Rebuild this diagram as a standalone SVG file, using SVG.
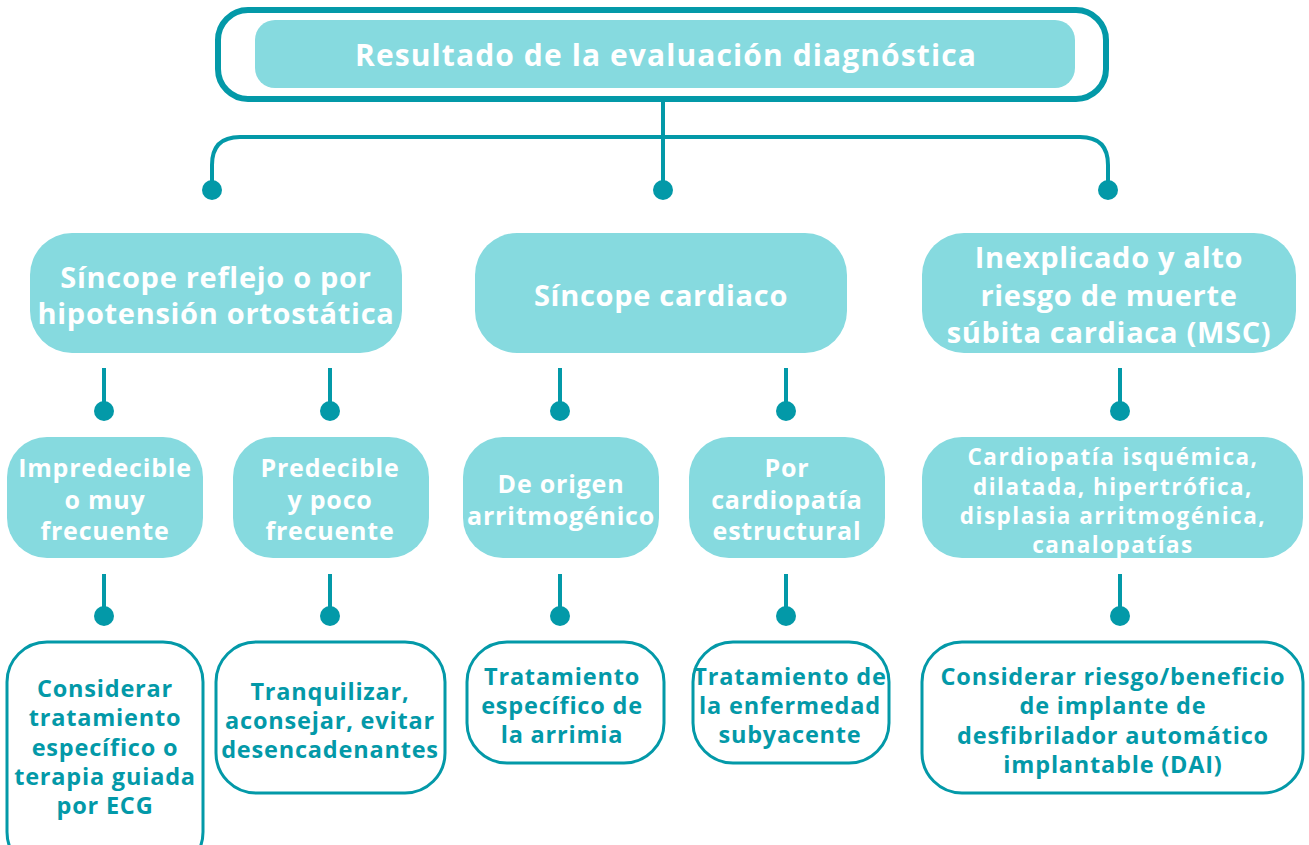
<svg xmlns="http://www.w3.org/2000/svg" width="1309" height="845" viewBox="0 0 1309 845">
<style>
.lb{fill:#86dadf;stroke:none}
.ob{fill:#fff;stroke:#0399a8;stroke-width:3}
.ln{fill:none;stroke:#0399a8;stroke-width:4}
.dot{fill:#0399a8}
.tw{fill:#fff;font-family:"Open Sans","Liberation Sans",Arial,sans-serif;font-weight:bold;text-anchor:middle}
.tt{fill:#0399a8;font-family:"Open Sans","Liberation Sans",Arial,sans-serif;font-weight:bold;text-anchor:middle;font-size:23.5px;letter-spacing:0.8px}
.r2{font-size:29px;letter-spacing:0.7px}
.r3{font-size:25px;letter-spacing:0.8px}
.r3b{font-size:22.5px;letter-spacing:1.5px}
</style>
<rect width="1309" height="845" fill="#fff"/>
<g id="connectors">
<path class="ln" d="M663 100V190"/>
<path class="ln" d="M212 190V165Q212 137 240 137H1080Q1108 137 1108 165V190"/>
<circle class="dot" cx="212" cy="190" r="10"/>
<circle class="dot" cx="663" cy="190" r="10"/>
<circle class="dot" cx="1108" cy="190" r="10"/>
<path class="ln" d="M104 368V410M330 368V410M560 368V410M786 368V410M1120 368V410"/>
<circle class="dot" cx="104" cy="411" r="10"/>
<circle class="dot" cx="330" cy="411" r="10"/>
<circle class="dot" cx="560" cy="411" r="10"/>
<circle class="dot" cx="786" cy="411" r="10"/>
<circle class="dot" cx="1120" cy="411" r="10"/>
<path class="ln" d="M104 574V615M330 574V615M560 574V615M786 574V615M1120 574V615"/>
<circle class="dot" cx="104" cy="616" r="10"/>
<circle class="dot" cx="330" cy="616" r="10"/>
<circle class="dot" cx="560" cy="616" r="10"/>
<circle class="dot" cx="786" cy="616" r="10"/>
<circle class="dot" cx="1120" cy="616" r="10"/>
</g>
<g id="root">
<rect x="218" y="10" width="888" height="89" rx="30" fill="#fff" stroke="#0399a8" stroke-width="6"/>
<rect class="lb" x="255" y="20" width="820" height="68" rx="20"/>
<text class="tw" x="666" y="66" font-size="30" letter-spacing="1.1">Resultado de la evaluación diagnóstica</text>
</g>
<g id="n-reflejo">
<rect class="lb" x="30" y="233" width="372" height="120" rx="42"/>
<text class="tw r2" x="216" y="288">Síncope reflejo o por</text>
<text class="tw r2" x="216" y="324">hipotensión ortostática</text>
</g>
<g id="n-cardiaco">
<rect class="lb" x="475" y="233" width="372" height="120" rx="42"/>
<text class="tw r2" x="661" y="306">Síncope cardiaco</text>
</g>
<g id="n-inexplicado">
<rect class="lb" x="922" y="233" width="374" height="120" rx="42"/>
<text class="tw r2" x="1109" y="268">Inexplicado y alto</text>
<text class="tw r2" x="1109" y="306">riesgo de muerte</text>
<text class="tw r2" x="1109" y="343">súbita cardiaca (MSC)</text>
</g>
<g id="n-impredecible">
<rect class="lb" x="7" y="437" width="196" height="121" rx="40"/>
<text class="tw r3" x="105" y="477">Impredecible</text>
<text class="tw r3" x="105" y="509">o muy</text>
<text class="tw r3" x="105" y="540">frecuente</text>
</g>
<g id="n-predecible">
<rect class="lb" x="233" y="437" width="196" height="121" rx="40"/>
<text class="tw r3" x="330" y="477">Predecible</text>
<text class="tw r3" x="330" y="509">y poco</text>
<text class="tw r3" x="330" y="540">frecuente</text>
</g>
<g id="n-arritmogenico">
<rect class="lb" x="463" y="437" width="196" height="121" rx="40"/>
<text class="tw r3" x="561" y="493">De origen</text>
<text class="tw r3" x="561" y="525">arritmogénico</text>
</g>
<g id="n-estructural">
<rect class="lb" x="689" y="437" width="196" height="121" rx="40"/>
<text class="tw r3" x="787" y="477">Por</text>
<text class="tw r3" x="787" y="509">cardiopatía</text>
<text class="tw r3" x="787" y="540">estructural</text>
</g>
<g id="n-cardiopatias">
<rect class="lb" x="922" y="437" width="381" height="121" rx="40"/>
<text class="tw r3b" x="1113" y="465">Cardiopatía isquémica,</text>
<text class="tw r3b" x="1113" y="495">dilatada, hipertrófica,</text>
<text class="tw r3b" x="1113" y="524">displasia arritmogénica,</text>
<text class="tw r3b" x="1113" y="553">canalopatías</text>
</g>
<g id="n-considerar">
<rect class="ob" x="7" y="642" width="196" height="230" rx="40"/>
<text class="tt" x="105" y="697">Considerar</text>
<text class="tt" x="105" y="726">tratamiento</text>
<text class="tt" x="105" y="756">específico o</text>
<text class="tt" x="105" y="785">terapia guiada</text>
<text class="tt" x="105" y="814">por ECG</text>
</g>
<g id="n-tranquilizar">
<rect class="ob" x="216" y="642" width="229" height="151" rx="40"/>
<text class="tt" x="330" y="700">Tranquilizar,</text>
<text class="tt" x="330" y="729">aconsejar, evitar</text>
<text class="tt" x="330" y="758">desencadenantes</text>
</g>
<g id="n-trat-arritmia">
<rect class="ob" x="467" y="642" width="197" height="121" rx="40"/>
<text class="tt" x="562" y="685">Tratamiento</text>
<text class="tt" x="562" y="714">específico de</text>
<text class="tt" x="562" y="743">la arrimia</text>
</g>
<g id="n-trat-enfermedad">
<rect class="ob" x="693" y="642" width="196" height="121" rx="40"/>
<text class="tt" x="790" y="685">Tratamiento de</text>
<text class="tt" x="790" y="714">la enfermedad</text>
<text class="tt" x="790" y="743">subyacente</text>
</g>
<g id="n-dai">
<rect class="ob" x="922" y="642" width="381" height="151" rx="40"/>
<text class="tt" x="1113" y="685">Considerar riesgo/beneficio</text>
<text class="tt" x="1113" y="714">de implante de</text>
<text class="tt" x="1113" y="744">desfibrilador automático</text>
<text class="tt" x="1113" y="773">implantable (DAI)</text>
</g>
</svg>
